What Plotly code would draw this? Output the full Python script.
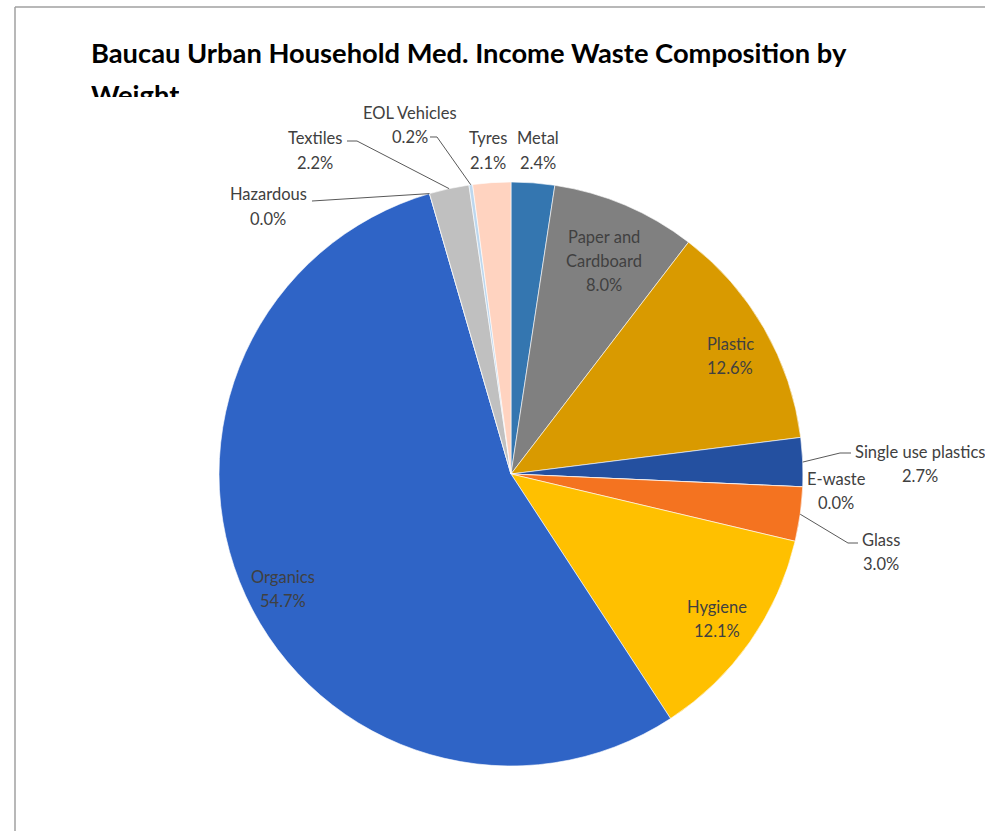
import math
import plotly.graph_objects as go

# ---- data ----
categories = ["Metal", "Paper and Cardboard", "Plastic", "Single use plastics", "E-waste",
              "Glass", "Hygiene", "Organics", "Hazardous", "Textiles", "EOL Vehicles", "Tyres"]
values = [2.4, 8.0, 12.6, 2.7, 0.0, 3.0, 12.1, 54.7, 0.0, 2.2, 0.2, 2.1]
colors = ["#3476B0", "#808080", "#D99A00", "#2450A0", "#5B9BD5", "#F47320",
          "#FFC000", "#2F64C6", "#A5A5A5", "#C0C0C0", "#BDD7EE", "#FFD3C0"]
label_lines = {"Paper and Cardboard": ["Paper and", "Cardboard"]}

W, H = 985, 831
CX, CY, R = 511, 474, 292  # pie centre/radius in pixels (layout)


def px(x):
    return x / W


def py(y):
    return 1 - y / H


fig = go.Figure(go.Pie(
    labels=categories, values=values, sort=False, direction="clockwise", rotation=0,
    marker=dict(colors=colors, line=dict(color="white", width=0.6)),
    textinfo="none", hoverinfo="label+percent", showlegend=False,
    domain=dict(x=[px(CX - R), px(CX + R)], y=[py(CY + R), py(CY - R)]),
))

# label placement (layout): label block centre, optional leader-line elbow
placement = {
    "Paper and Cardboard": dict(pos=(604, 260.5)),
    "Plastic": dict(pos=(730, 355.5)),
    "Hygiene": dict(pos=(717, 618.5)),
    "Organics": dict(pos=(283, 588.5)),
    "Metal": dict(pos=(538, 150.5)),
    "Tyres": dict(pos=(488, 150.5)),
    "EOL Vehicles": dict(pos=(410, 125), elbow=[(430, 137), (437, 137)]),
    "Textiles": dict(pos=(315, 150.5), elbow=[(347, 141), (357, 141)]),
    "Hazardous": dict(pos=(268, 206.5), elbow=[(312, 201)]),
    "Single use plastics": dict(pos=(920, 464), elbow=[(851, 453), (840, 453)], left=853),
    "E-waste": dict(pos=(836, 491)),
    "Glass": dict(pos=(881, 552), elbow=[(858, 543), (848, 543)]),
}

total = sum(values)
cum = 0.0
font = dict(family="Lato, Carlito, sans-serif", size=16.5, color="#404040")
LS = 24
shapes = []
annotations = []
for name, v in zip(categories, values):
    mid = (cum + v / 2) / total * 2 * math.pi
    cum += v
    pct = f"{v / total * 100:.1f}%"
    lines = label_lines.get(name, [name]) + [pct]
    o = placement[name]
    lx, ly = o["pos"]
    y0 = ly - LS * (len(lines) - 1) / 2
    for i, t in enumerate(lines):
        if "left" in o and i == 0:
            annotations.append(dict(x=px(o["left"]), y=py(y0), text=t, showarrow=False,
                                    xref="paper", yref="paper", font=font,
                                    xanchor="left", yanchor="middle"))
        else:
            annotations.append(dict(x=px(lx), y=py(y0 + i * LS), text=t, showarrow=False,
                                    xref="paper", yref="paper", font=font,
                                    xanchor="center", yanchor="middle"))
    if "elbow" in o:
        ex = CX + R * math.sin(mid)
        ey = CY - R * math.cos(mid)
        pts = o["elbow"] + [(ex, ey)]
        path = "M " + " L ".join(f"{px(a):.5f},{py(b):.5f}" for a, b in pts)
        shapes.append(dict(type="path", path=path, xref="paper", yref="paper",
                           line=dict(color="#595959", width=1)))

# title (second line clipped as in the reference)
tfont = dict(family="Lato, Carlito, sans-serif", size=27.3, color="black")
annotations.append(dict(x=px(89), y=py(53), text="<b>Baucau Urban Household Med. Income Waste Composition by</b>",
                        showarrow=False, xref="paper", yref="paper", font=tfont,
                        xanchor="left", yanchor="middle"))
annotations.append(dict(x=px(89), y=py(76), text="<b>Weight</b>", showarrow=False,
                        xref="paper", yref="paper", font=tfont, xanchor="left", yanchor="top",
                        height=19, valign="top"))

# chart-area border (top and left visible)
shapes.append(dict(type="line", xref="paper", yref="paper", x0=px(15), x1=1.0, y0=py(7), y1=py(7),
                   line=dict(color="#A0A0A0", width=1.5)))
shapes.append(dict(type="line", xref="paper", yref="paper", x0=px(15), x1=px(15), y0=py(7), y1=0,
                   line=dict(color="#A0A0A0", width=1.5)))

fig.update_layout(width=W, height=H, margin=dict(l=0, r=0, t=0, b=0),
                  paper_bgcolor="white", plot_bgcolor="white",
                  shapes=shapes, annotations=annotations)
fig.write_html("out.html", config={"displayModeBar": False},
               post_script="document.body.style.margin='0';document.body.style.overflow='hidden';")
